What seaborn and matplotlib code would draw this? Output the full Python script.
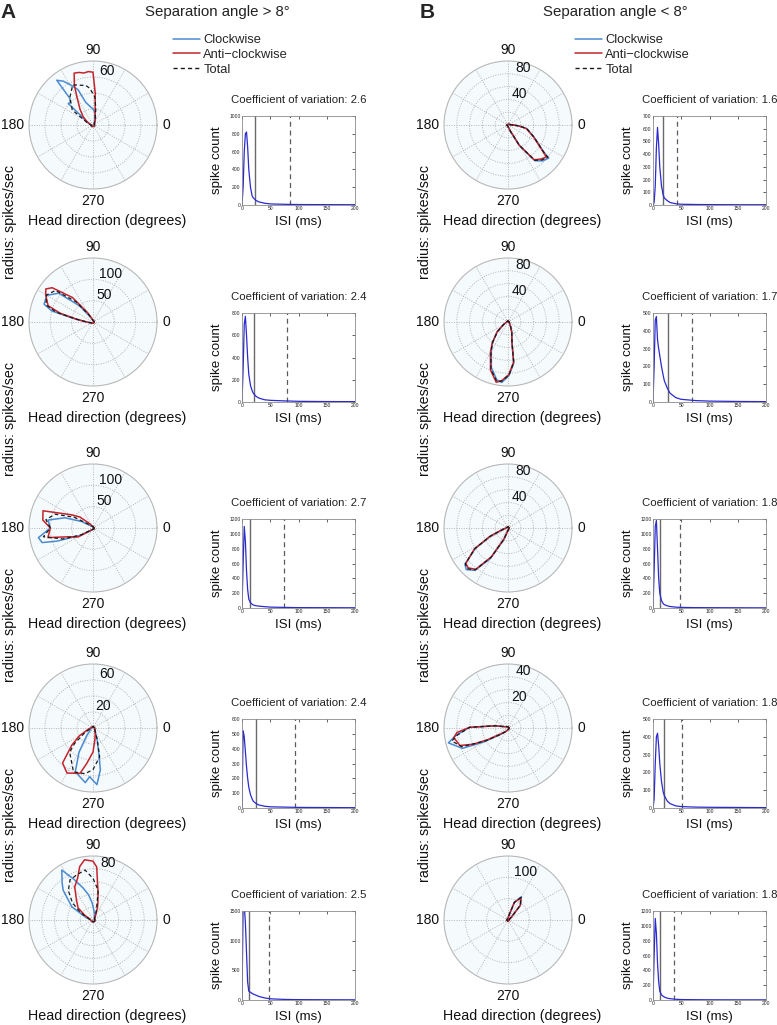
import numpy as np
import matplotlib
matplotlib.use('Agg')
import matplotlib.pyplot as plt
import matplotlib.transforms as mtransforms
from matplotlib.lines import Line2D
import seaborn as sns
import pandas as pd

sns.set_theme(style='white')
plt.rcParams['font.family'] = ['Liberation Sans', 'DejaVu Sans']

# ---------------- data ----------------
# polar tuning curves: vertices (head direction deg, rate spikes/sec)
A1_cw_deg = [0, 40, 70, 80, 90, 100, 108, 113, 119, 124, 129, 131, 135, 139, 142, 150, 165, 180, 220, 270, 320]
A1_cw_r = [2, 2, 6, 15, 20, 24, 30, 48, 57, 66, 72, 44, 40, 41, 20, 10, 4, 2, 2, 2, 2]
A1_acw_deg = [0, 40, 60, 70, 80, 86, 90, 95, 100, 105, 110, 115, 120, 130, 140, 150, 160, 180, 220, 270, 320]
A1_acw_r = [2, 2, 5, 9, 15, 40, 66, 67, 66, 68, 69, 55, 40, 25, 16, 9, 5, 2, 2, 2, 2]
A1_tot_deg = [0, 40, 70, 80, 86, 95, 100, 112, 117, 130, 144, 150, 160, 180, 220, 270, 320]
A1_tot_r = [2, 2, 8, 20, 35, 46, 50, 54, 56, 45, 32, 14, 7, 3, 2, 2, 2]

A2_cw_deg = [0, 60, 100, 120, 130, 140, 150, 160, 165, 170, 180, 190, 210, 270, 320]
A2_cw_r = [3, 3, 5, 15, 50, 105, 125, 122, 100, 45, 15, 8, 4, 3, 3]
A2_acw_deg = [0, 60, 100, 110, 120, 130, 140, 145, 150, 160, 165, 170, 180, 190, 210, 270, 320]
A2_acw_r = [3, 3, 6, 10, 25, 75, 125, 135, 128, 112, 80, 40, 15, 8, 4, 3, 3]
A2_tot_deg = [0, 60, 100, 120, 130, 140, 150, 160, 165, 170, 180, 190, 210, 270, 320]
A2_tot_r = [3, 3, 5, 20, 62, 115, 126, 117, 90, 42, 15, 8, 4, 3, 3]

A3_cw_deg = [0, 90, 130, 150, 160, 170, 180, 190, 196, 200, 210, 220, 240, 270, 320]
A3_cw_r = [3, 3, 6, 30, 70, 107, 100, 130, 124, 90, 35, 12, 5, 3, 3]
A3_acw_deg = [0, 90, 120, 130, 140, 148, 161, 171, 180, 192, 200, 211, 220, 240, 270, 320]
A3_acw_r = [3, 3, 8, 15, 40, 58, 124, 119, 100, 108, 60, 41, 12, 5, 3, 3]
A3_tot_deg = [0, 90, 130, 150, 160, 170, 180, 190, 200, 210, 220, 240, 270, 320]
A3_tot_r = [3, 3, 8, 50, 95, 112, 100, 118, 75, 32, 10, 4, 3, 3]

A4_cw_deg = [0, 90, 180, 220, 230, 240, 248, 262, 266, 274, 280, 283, 290, 300, 320]
A4_cw_r = [2, 2, 2, 5, 12, 35, 59, 69, 61, 71, 53, 32, 15, 6, 3]
A4_acw_deg = [0, 90, 180, 190, 200, 210, 219, 229, 240, 254, 260, 270, 279, 290, 320]
A4_acw_r = [2, 2, 3, 5, 8, 20, 34, 58, 65, 59, 45, 30, 15, 8, 3]
A4_tot_deg = [0, 90, 180, 200, 210, 220, 226, 246, 260, 270, 283, 290, 300, 320]
A4_tot_r = [2, 2, 2, 5, 12, 30, 42, 60, 58, 52, 37, 15, 6, 3]

A5_cw_deg = [0, 40, 80, 93, 100, 107, 115, 122, 130, 135, 148, 160, 170, 200, 270, 320]
A5_cw_r = [3, 3, 12, 27, 40, 52, 70, 92, 75, 66, 39, 12, 5, 3, 3, 3]
A5_acw_deg = [0, 40, 60, 70, 74, 80, 86, 90, 98, 104, 110, 119, 130, 141, 150, 160, 200, 270, 320]
A5_acw_r = [3, 3, 8, 20, 28, 45, 83, 92, 95, 86, 70, 59, 40, 30, 15, 6, 3, 3, 3]
A5_tot_deg = [0, 40, 70, 80, 90, 99, 110, 120, 130, 140, 150, 160, 200, 270, 320]
A5_tot_r = [3, 3, 15, 47, 65, 79, 75, 72, 60, 42, 22, 8, 3, 3, 3]

B1_cw_deg = [0, 10, 60, 180, 270, 280, 290, 299, 307, 314, 321, 323, 335, 349, 355]
B1_cw_r = [8, 3, 2, 2, 2, 4, 10, 37, 70, 78, 82, 70, 45, 30, 18]
B1_acw_deg = [0, 10, 60, 180, 270, 280, 290, 299, 307, 314, 320, 323, 335, 349, 355]
B1_acw_r = [8, 3, 2, 2, 2, 4, 9, 36, 68, 74, 78, 68, 44, 29, 17]
B1_tot_deg = [0, 10, 60, 180, 270, 280, 290, 299, 307, 314, 321, 323, 335, 349, 355]
B1_tot_r = [8, 3, 2, 2, 2, 4, 10, 36, 69, 76, 80, 69, 45, 30, 18]

B2_cw_deg = [0, 90, 180, 200, 210, 222, 233, 240, 250, 259, 264, 271, 278, 281, 290, 300, 320]
B2_cw_r = [2, 2, 2, 4, 8, 22, 40, 52, 76, 92, 95, 84, 65, 33, 18, 8, 3]
B2_acw_deg = [0, 90, 180, 200, 210, 222, 233, 240, 250, 259, 264, 271, 278, 281, 290, 300, 320]
B2_acw_r = [2, 2, 2, 4, 8, 23, 41, 55, 80, 96, 92, 82, 63, 32, 17, 8, 3]
B2_tot_deg = [0, 90, 180, 200, 210, 222, 233, 240, 250, 259, 264, 271, 278, 281, 290, 300, 320]
B2_tot_r = [2, 2, 2, 4, 8, 22, 40, 53, 78, 94, 93, 83, 64, 33, 17, 8, 3]

B3_cw_deg = [0, 90, 180, 195, 205, 212, 220, 225, 232, 240, 250, 260, 300]
B3_cw_r = [2, 2, 3, 8, 30, 60, 88, 92, 84, 55, 20, 6, 2]
B3_acw_deg = [0, 90, 180, 195, 205, 212, 220, 225, 232, 240, 250, 260, 300]
B3_acw_r = [2, 2, 3, 9, 32, 62, 86, 88, 82, 52, 18, 6, 2]
B3_tot_deg = [0, 90, 180, 195, 205, 212, 220, 225, 232, 240, 250, 260, 300]
B3_tot_r = [2, 2, 3, 8, 31, 61, 87, 90, 83, 53, 19, 6, 2]

B4_cw_deg = [0, 90, 160, 170, 179, 188, 194, 204, 210, 220, 240, 300]
B4_cw_r = [1, 1, 3, 10, 30, 41, 48, 39, 22, 8, 3, 1]
B4_acw_deg = [0, 90, 160, 170, 179, 185, 190, 200, 205, 210, 220, 240, 300]
B4_acw_r = [1, 1, 3, 10, 30, 40, 43, 40, 30, 18, 7, 3, 1]
B4_tot_deg = [0, 90, 160, 170, 179, 188, 193, 202, 210, 220, 240, 300]
B4_tot_r = [1, 1, 3, 10, 30, 40, 45, 39, 20, 8, 3, 1]

B5_cw_deg = [0, 30, 40, 50, 60, 70, 80, 90, 180, 270]
B5_cw_r = [3, 4, 10, 45, 63, 45, 10, 4, 3, 3]
B5_acw_deg = [0, 30, 40, 50, 60, 70, 80, 90, 180, 270]
B5_acw_r = [3, 4, 10, 45, 60, 44, 10, 4, 3, 3]
B5_tot_deg = [0, 30, 40, 50, 60, 70, 80, 90, 180, 270]
B5_tot_r = [3, 4, 10, 45, 61, 44, 10, 4, 3, 3]

# polar radial scale: max, increment, labelled circles
A_rmax = [80, 150, 150, 80, 100]
A_rinc = [20, 50, 50, 20, 20]
A_rlabels = [[60], [50, 100], [50, 100], [20, 60], [80]]
B_rmax = [100, 100, 100, 50, 150]
B_rinc = [20, 20, 20, 10, 50]
B_rlabels = [[40, 80], [40, 80], [40, 80], [20, 40], [100]]

# ISI histograms
ISI_X = [0, 2, 4, 6, 8, 10, 12, 15, 18, 20, 25, 30, 40, 50, 75, 100, 150, 200]
A1_isi = [0, 200, 600, 800, 820, 650, 400, 200, 100, 80, 50, 35, 20, 12, 8, 5, 4, 3]
A2_isi = [0, 300, 700, 770, 600, 400, 250, 150, 100, 80, 50, 35, 20, 15, 10, 6, 4, 3]
A3_isi = [0, 600, 1100, 900, 500, 250, 120, 70, 50, 40, 30, 25, 18, 12, 8, 5, 4, 3]
A4_isi = [0, 520, 480, 380, 280, 200, 140, 90, 60, 45, 30, 20, 12, 8, 6, 4, 3, 2]
A5_isi = [0, 1600, 1600, 1300, 800, 300, 150, 130, 110, 100, 80, 60, 35, 20, 10, 6, 4, 3]
B1_isi = [0, 20, 150, 450, 610, 480, 300, 150, 80, 55, 35, 20, 10, 6, 4, 3, 2, 2]
B2_isi = [0, 200, 460, 480, 350, 300, 260, 200, 150, 120, 80, 50, 25, 15, 8, 5, 3, 2]
B3_isi = [0, 500, 1100, 1180, 800, 400, 200, 100, 60, 45, 30, 20, 12, 8, 5, 4, 3, 2]
B4_isi = [0, 50, 250, 400, 420, 350, 250, 150, 90, 70, 40, 25, 12, 8, 5, 4, 3, 2]
B5_isi = [0, 600, 1100, 900, 500, 250, 120, 70, 50, 40, 25, 18, 10, 6, 4, 3, 2, 2]
A_ymax = [1000, 800, 1200, 600, 1500]
A_ystep = [200, 200, 200, 100, 500]
B_ymax = [700, 500, 1200, 500, 1200]
B_ystep = [100, 100, 200, 100, 200]
A_solid = [23, 22, 14, 25, 13]
A_dashed = [85, 80, 75, 93, 48]
B_solid = [17, 26, 12, 20, 12]
B_dashed = [43, 69, 48, 52, 38]
A_cv = ['2.6', '2.4', '2.7', '2.4', '2.5']
B_cv = ['1.6', '1.7', '1.8', '1.8', '1.8']

SERIES = ['Clockwise', 'Anti\u2212clockwise', 'Total']
COL_CW = '#4a8bd2'
COL_ACW = '#c4242c'
COL_TOT = '#1a1a1a'
COL_ISI = '#2a2ad0'

A_polar = [(A1_cw_deg, A1_cw_r, A1_acw_deg, A1_acw_r, A1_tot_deg, A1_tot_r),
           (A2_cw_deg, A2_cw_r, A2_acw_deg, A2_acw_r, A2_tot_deg, A2_tot_r),
           (A3_cw_deg, A3_cw_r, A3_acw_deg, A3_acw_r, A3_tot_deg, A3_tot_r),
           (A4_cw_deg, A4_cw_r, A4_acw_deg, A4_acw_r, A4_tot_deg, A4_tot_r),
           (A5_cw_deg, A5_cw_r, A5_acw_deg, A5_acw_r, A5_tot_deg, A5_tot_r)]
B_polar = [(B1_cw_deg, B1_cw_r, B1_acw_deg, B1_acw_r, B1_tot_deg, B1_tot_r),
           (B2_cw_deg, B2_cw_r, B2_acw_deg, B2_acw_r, B2_tot_deg, B2_tot_r),
           (B3_cw_deg, B3_cw_r, B3_acw_deg, B3_acw_r, B3_tot_deg, B3_tot_r),
           (B4_cw_deg, B4_cw_r, B4_acw_deg, B4_acw_r, B4_tot_deg, B4_tot_r),
           (B5_cw_deg, B5_cw_r, B5_acw_deg, B5_acw_r, B5_tot_deg, B5_tot_r)]
A_isi = [A1_isi, A2_isi, A3_isi, A4_isi, A5_isi]
B_isi = [B1_isi, B2_isi, B3_isi, B4_isi, B5_isi]

# ---------------- layout ----------------
W, H = 777, 1025
fig = plt.figure(figsize=(W / 100, H / 100), dpi=100)
ROW_CY = [125, 322, 528, 728, 920]
R = 64


def fx(px):
    return px / W


def fy(py):
    return 1 - py / H


def closed_df(deg, r):
    d = list(deg) + [deg[0] + 360]
    v = list(r) + [r[0]]
    return pd.DataFrame({'theta': np.deg2rad(d), 'r': v})


def polar_panel(cx, cy, series, rmax, rinc, rlabels, ylabel):
    ax = fig.add_axes([fx(cx - R), fy(cy + R), 2 * R / W, 2 * R / H], projection='polar')
    ax.set_facecolor('#f5fafd')
    cw_d, cw_r, acw_d, acw_r, tot_d, tot_r = series
    sns.lineplot(data=closed_df(cw_d, cw_r), x='theta', y='r', ax=ax, sort=False,
                 color=COL_CW, lw=1.1, estimator=None)
    sns.lineplot(data=closed_df(acw_d, acw_r), x='theta', y='r', ax=ax, sort=False,
                 color=COL_ACW, lw=1.1, estimator=None)
    sns.lineplot(data=closed_df(tot_d, tot_r), x='theta', y='r', ax=ax, sort=False,
                 color=COL_TOT, lw=0.9, ls=(0, (3, 2.2)), estimator=None)
    ax.set_xlabel('')
    ax.set_ylabel('')
    ax.set_ylim(0, rmax)
    ax.set_yticks(np.arange(rinc, rmax - rinc / 2, rinc))
    ax.set_yticklabels([])
    ax.set_xticks(np.deg2rad(np.arange(0, 360, 30)))
    ax.set_xticklabels([])
    ax.grid(True, color='#b4b4b4', linestyle=(0, (1, 1.5)), linewidth=0.7)
    ax.spines['polar'].set_color('#b8b8b8')
    ax.spines['polar'].set_linewidth(0.8)
    off = mtransforms.offset_copy(ax.transData, fig=fig, x=0, y=6, units='dots')
    for v in rlabels:
        ax.text(np.deg2rad(82), v, str(v), transform=off, ha='left', va='center',
                fontsize=10, color='#111111')
    tk = dict(transform=ax.transAxes, ha='center', va='center', fontsize=10, color='#111111')
    ax.text(0.5 + 73 / 128, 0.5, '0', **tk)
    ax.text(0.5 - 80 / 128, 0.5, '180', **tk)
    ax.text(0.5, 0.5 + 75 / 128, '90', **tk)
    ax.text(0.5, 0.5 - 76 / 128, '270', **tk)
    ax.text(0.5 + 14 / 128, 0.5 - 96 / 128, 'Head direction (degrees)', **dict(tk, fontsize=10.3))
    if ylabel:
        ax.text(0.5 - 83 / 128, 0.5 - 97 / 128, 'radius: spikes/sec', rotation=90,
                **dict(tk, fontsize=10.3))
    return ax


def isi_panel(x0, cy, vals, ymax, ystep, solid, dashed, cv):
    aw, ah = 113, 89
    ax = fig.add_axes([fx(x0), fy(cy + 80), aw / W, ah / H])
    ax.set_facecolor('white')
    ax.axvline(solid, color='#6a6a6a', lw=1.0)
    ax.axvline(dashed, color='#5a5a5a', lw=0.9, ls=(0, (4, 3)))
    sns.lineplot(x=ISI_X, y=vals, ax=ax, color=COL_ISI, lw=0.9, estimator=None, sort=False)
    ax.set_xlim(0, 200)
    ax.set_ylim(0, ymax)
    ax.set_xticks([0, 50, 100, 150, 200])
    ax.set_yticks(np.arange(0, ymax + 1, ystep))
    ax.tick_params(direction='in', length=2, width=0.5, labelsize=3.6, pad=1,
                   top=True, right=True, colors='#222222')
    for s in ax.spines.values():
        s.set_color('#8a8a8a')
        s.set_linewidth(0.6)
    ax.set_xlabel('')
    ax.set_ylabel('')
    ax.text(-25 / aw, 0.5, 'spike count', transform=ax.transAxes, rotation=90,
            ha='center', va='center', fontsize=9.6, color='#111111')
    ax.text(0.5, -17 / ah, 'ISI (ms)', transform=ax.transAxes,
            ha='center', va='center', fontsize=9.6, color='#111111')
    ax.text(0.5, 1 + 16 / ah, 'Coefficient of variation: ' + cv, transform=ax.transAxes,
            ha='center', va='center', fontsize=8.2, color='#222222')
    return ax


for i, cy in enumerate(ROW_CY):
    polar_panel(93, cy, A_polar[i], A_rmax[i], A_rinc[i], A_rlabels[i], i < 4)
    polar_panel(508, cy, B_polar[i], B_rmax[i], B_rinc[i], B_rlabels[i], i < 4)
    isi_panel(242, cy, A_isi[i], A_ymax[i], A_ystep[i], A_solid[i], A_dashed[i], A_cv[i])
    isi_panel(653, cy, B_isi[i], B_ymax[i], B_ystep[i], B_solid[i], B_dashed[i], B_cv[i])

# headers
fig.text(fx(8), fy(12), 'A', fontsize=15, fontweight='bold', ha='center', va='center')
fig.text(fx(427), fy(12), 'B', fontsize=15, fontweight='bold', ha='center', va='center')
fig.text(fx(217), fy(12), 'Separation angle > 8\u00b0', fontsize=10.8, ha='center', va='center',
         color='#222222')
fig.text(fx(615), fy(12), 'Separation angle < 8\u00b0', fontsize=10.8, ha='center', va='center',
         color='#222222')

# legends
handles = [Line2D([], [], color=COL_CW, lw=1.1),
           Line2D([], [], color=COL_ACW, lw=1.1),
           Line2D([], [], color=COL_TOT, lw=1.0, ls=(0, (3, 2.2)))]
for lx in (173, 575):
    fig.legend(handles, SERIES, loc='upper left', bbox_to_anchor=(fx(lx), fy(34)),
               frameon=False, fontsize=9.3, handlelength=2.1, handletextpad=0.25,
               labelspacing=0.22, borderpad=0, borderaxespad=0)

fig.savefig('out.png', dpi=100)
